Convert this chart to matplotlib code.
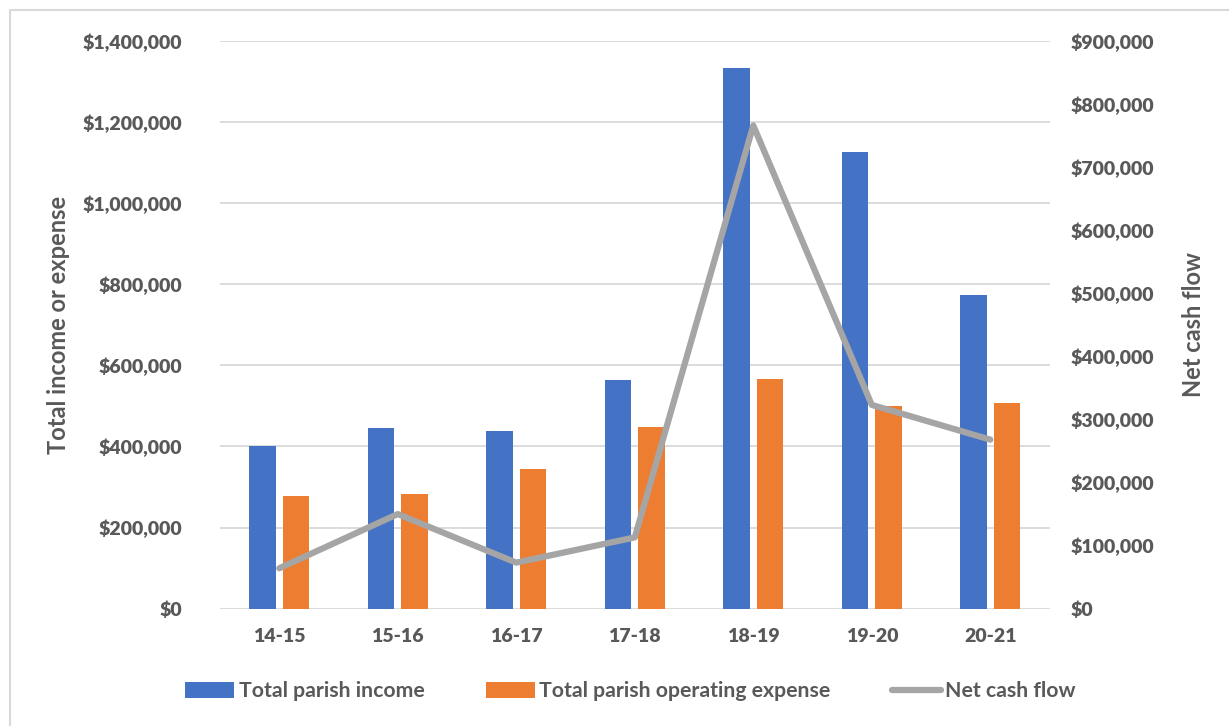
import matplotlib.pyplot as plt
import numpy as np
from matplotlib.patches import Rectangle
from matplotlib.ticker import FuncFormatter

years = ["14-15", "15-16", "16-17", "17-18", "18-19", "19-20", "20-21"]
income = [400000, 446000, 439000, 565000, 1334000, 1126000, 774000]
expense = [278000, 282000, 345000, 449000, 566000, 500000, 507000]
net_cash = [64000, 150000, 73000, 113000, 766000, 323000, 268000]

BLUE = "#4472C4"
ORANGE = "#ED7D31"
GRAY = "#A5A5A5"
TEXT = "#595959"
GRID = "#D9D9D9"

plt.rcParams['font.family'] = ['Lato', 'DejaVu Sans']


def money(v, pos):
    return "${:,.0f}".format(v)


fig = plt.figure(figsize=(12.29, 7.26), dpi=100)
ax = fig.add_axes([0.179, 0.1616, 0.675, 0.782])
ax2 = ax.twinx()

x = np.arange(len(years))
w = 0.225
gap = 0.056
ax.bar(x - (w + gap) / 2, income, w, color=BLUE, label="Total parish income", zorder=2)
ax.bar(x + (w + gap) / 2, expense, w, color=ORANGE, label="Total parish operating expense", zorder=2)
ax2.plot(x, net_cash, color=GRAY, lw=4.5, solid_capstyle='round', label="Net cash flow", zorder=3)

ax.set_xlim(-0.5, len(years) - 0.5)
ax.set_ylim(0, 1400000)
ax.set_yticks(np.arange(0, 1400001, 200000))
ax2.set_ylim(0, 900000)
ax2.set_yticks(np.arange(0, 900001, 100000))
ax.yaxis.set_major_formatter(FuncFormatter(money))
ax2.yaxis.set_major_formatter(FuncFormatter(money))
ax.set_xticks(x)
ax.set_xticklabels(years)

ax.grid(axis='y', color=GRID, lw=1.3, zorder=0)
ax.set_axisbelow(True)
for a in (ax, ax2):
    for s in a.spines.values():
        s.set_visible(False)
    a.tick_params(length=0, colors=TEXT, labelsize=14)
    for lab in a.get_yticklabels() + a.get_xticklabels():
        lab.set_fontweight('heavy')
ax.tick_params(axis='y', pad=27)
ax2.tick_params(axis='y', pad=15)
ax.tick_params(axis='x', pad=14)

ax.set_ylabel("Total income or expense", color=TEXT, fontsize=17, fontweight='bold', labelpad=9)
ax2.set_ylabel("Net cash flow", color=TEXT, fontsize=17, fontweight='bold', labelpad=20)

h1, l1 = ax.get_legend_handles_labels()
h2, l2 = ax2.get_legend_handles_labels()
fig.legend(h1 + h2, l1 + l2, loc='center', bbox_to_anchor=(0.513, 0.048), ncol=3,
           frameon=False, labelcolor=TEXT, handlelength=2.3,
           handleheight=0.75, handletextpad=0.2, columnspacing=2.9,
           prop={'weight': 'bold', 'size': 15.3})

fig.patches.append(Rectangle((10 / 1229, -0.02), 1.1, 1 - 10 / 726 + 0.02,
                             transform=fig.transFigure, fill=False,
                             edgecolor=GRID, lw=1.5))

fig.savefig("out.png", dpi=100)
